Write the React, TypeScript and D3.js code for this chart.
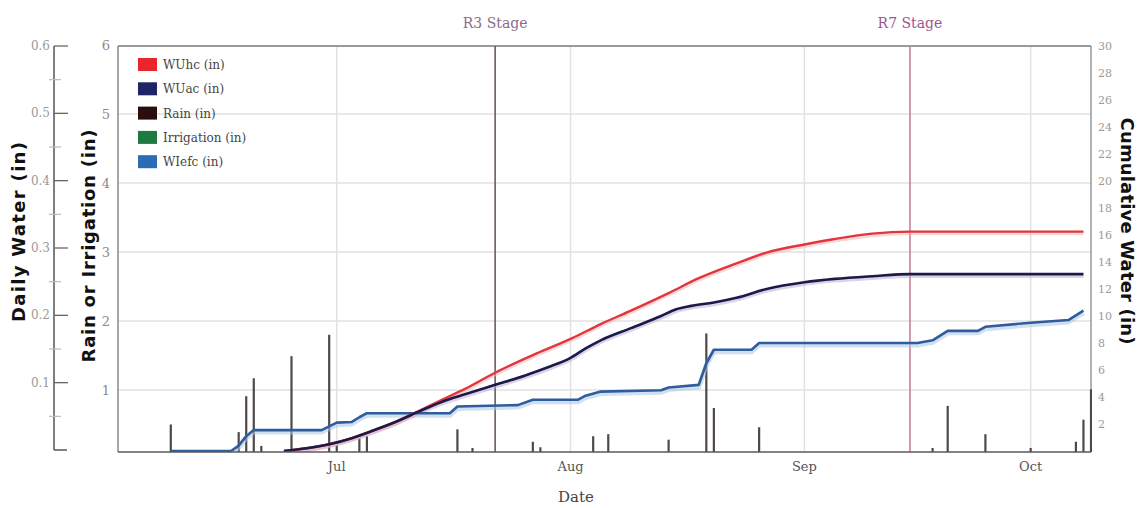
import React from "react";
import * as d3 from "d3";

const YEAR = 2013;
const monthLabels = ["Jul", "Aug", "Sep", "Oct"];
const monthTickDates = ["07-01", "08-01", "09-01", "10-01"];
const rainTicks = [1, 2, 3, 4, 5, 6];
const dailyTicks = [0.1, 0.2, 0.3, 0.4, 0.5, 0.6];
const dailyMinor = [0.05, 0.15, 0.25, 0.35, 0.45, 0.55];
const cumTicks = [2, 4, 6, 8, 10, 12, 14, 16, 18, 20, 22, 24, 26, 28, 30];

const rainDates = ["06-09", "06-18", "06-19", "06-20", "06-21", "06-25", "06-30", "07-01", "07-04", "07-05", "07-17", "07-19", "07-27", "07-28", "08-04", "08-06", "08-14", "08-19", "08-20", "08-26", "09-18", "09-20", "09-25", "10-01", "10-05", "10-07", "10-08", "10-09"];
const rainValues = [0.5, 0.39, 0.91, 1.17, 0.19, 1.49, 1.8, 0.2, 0.3, 0.33, 0.43, 0.16, 0.25, 0.17, 0.33, 0.36, 0.28, 1.82, 0.74, 0.46, 0.16, 0.77, 0.36, 0.16, 0.1, 0.25, 0.57, 1.01];

const wuhcDates = ["06-24", "06-27", "06-30", "07-03", "07-06", "07-09", "07-12", "07-15", "07-18", "07-22", "07-27", "08-01", "08-05", "08-09", "08-14", "08-18", "08-23", "08-27", "09-01", "09-05", "09-10", "09-15", "10-08"];
const wuhcValues = [0, 0.2, 0.5, 0.95, 1.55, 2.2, 3.0, 3.8, 4.6, 5.8, 7.1, 8.3, 9.4, 10.4, 11.7, 12.8, 13.9, 14.7, 15.3, 15.7, 16.1, 16.25, 16.25];

const wuacDates = ["06-24", "06-27", "06-30", "07-03", "07-06", "07-09", "07-12", "07-15", "07-18", "07-22", "07-26", "07-29", "08-01", "08-03", "08-05", "08-09", "08-13", "08-15", "08-17", "08-20", "08-23", "08-27", "09-01", "09-05", "09-10", "09-15", "10-08"];
const wuacValues = [0, 0.2, 0.5, 0.95, 1.55, 2.2, 2.95, 3.65, 4.2, 4.9, 5.6, 6.2, 6.9, 7.6, 8.2, 9.1, 10.0, 10.5, 10.75, 11.0, 11.35, 12.0, 12.5, 12.75, 12.95, 13.1, 13.1];

const wiefcDates = ["06-09", "06-17", "06-18", "06-19", "06-20", "06-29", "07-01", "07-03", "07-04", "07-05", "07-16", "07-17", "07-25", "07-27", "08-02", "08-03", "08-05", "08-13", "08-14", "08-18", "08-19", "08-20", "08-25", "08-26", "09-16", "09-18", "09-20", "09-24", "09-25", "10-01", "10-06", "10-08"];
const wiefcValues = [0, 0, 0.4, 1.1, 1.55, 1.55, 2.1, 2.15, 2.5, 2.8, 2.8, 3.3, 3.4, 3.8, 3.8, 4.1, 4.4, 4.5, 4.7, 4.9, 6.5, 7.5, 7.5, 8.0, 8.0, 8.2, 8.9, 8.9, 9.2, 9.5, 9.7, 10.4];

const stageNames = ["R3 Stage", "R7 Stage"];
const stageDates = ["07-22", "09-15"];

const legendNames = ["WUhc (in)", "WUac (in)", "Rain (in)", "Irrigation (in)", "WIefc (in)"];
const legendColors = ["#e8262c", "#1f2468", "#2a0e0e", "#1e7a40", "#2b6cb6"];

const toDate = (s: string) => {
  const [m, d] = s.split("-").map(Number);
  return new Date(Date.UTC(YEAR, m - 1, d));
};

export default function App() {
  const W = 1141, H = 508;
  const L = 118, R = 1091, T = 46, B = 452;
  const x = d3.scaleUtc().domain([toDate("06-02"), toDate("10-09")]).range([L, R]);
  const yRain = d3.scaleLinear().domain([0, 6]).range([459, 45]);
  const yCum = d3.scaleLinear().domain([0, 30]).range([451, 46]);
  const yDaily = d3.scaleLinear().domain([0, 0.6]).range([450, 46]);

  const mk = (dates: string[], vals: number[], curve: d3.CurveFactory) =>
    d3.line<number>().x((_, i) => x(toDate(dates[i]))).y((v) => yCum(v)).curve(curve)(vals) || "";

  const redPath = mk(wuhcDates, wuhcValues, d3.curveMonotoneX);
  const navyPath = mk(wuacDates, wuacValues, d3.curveMonotoneX);
  const bluePath = mk(wiefcDates, wiefcValues, d3.curveLinear);

  const serif = "'DejaVu Serif', serif";
  const sansB = "'DejaVu Sans', sans-serif";

  return (
    <svg width={W} height={H} style={{ position: "absolute", left: 0, top: 0, background: "#fff" }}>
      <rect x={0} y={0} width={W} height={H} fill="#fff" />
      <defs>
        <clipPath id="plot">
          <rect x={L} y={T} width={R - L + 1} height={B - T} />
        </clipPath>
      </defs>
      {/* gridlines */}
      {rainTicks.filter((t) => t < 6).map((t) => (
        <line key={"h" + t} x1={L} x2={R} y1={yRain(t)} y2={yRain(t)} stroke="#e2e2e2" strokeWidth={1.5} />
      ))}
      {monthTickDates.map((d) => (
        <line key={"v" + d} x1={x(toDate(d))} x2={x(toDate(d))} y1={T} y2={B} stroke="#e2e2e2" strokeWidth={1.5} />
      ))}
      {/* border */}
      <line x1={L} x2={R} y1={T} y2={T} stroke="#9a9a9a" strokeWidth={2} />
      <line x1={L} x2={L} y1={T} y2={B} stroke="#8a8a8a" strokeWidth={1.5} />
      <line x1={R} x2={R} y1={T} y2={B} stroke="#9a9a9a" strokeWidth={1.5} />
      {/* stage lines */}
      <line x1={x(toDate(stageDates[0]))} x2={x(toDate(stageDates[0]))} y1={T} y2={B} stroke="#6e5a64" strokeWidth={1.6} />
      <line x1={x(toDate(stageDates[1]))} x2={x(toDate(stageDates[1]))} y1={T} y2={B} stroke="#c9809f" strokeWidth={1.6} />
      <text x={x(toDate(stageDates[0]))} y={28} textAnchor="middle" fontFamily={serif} fontSize={14} fill="#8a6c8a">{stageNames[0]}</text>
      <text x={x(toDate(stageDates[1]))} y={28} textAnchor="middle" fontFamily={serif} fontSize={14} fill="#a2548c">{stageNames[1]}</text>

      {/* rain bars */}
      <g clipPath="url(#plot)">
        {rainValues.map((v, i) => {
          const xx = x(toDate(rainDates[i]));
          return <line key={"r" + i} x1={xx} x2={xx} y1={B} y2={yRain(v)} stroke="#4e4848" strokeWidth={2.2} />;
        })}
        {/* lines with halos */}
        <path d={bluePath} fill="none" stroke="#a9c6e6" strokeWidth={5} strokeOpacity={0.55} transform="translate(0,2)" />
        <path d={navyPath} fill="none" stroke="#b9a8d8" strokeWidth={4.5} strokeOpacity={0.5} transform="translate(0,1.5)" />
        <path d={redPath} fill="none" stroke="#f2b0b0" strokeWidth={4} strokeOpacity={0.5} transform="translate(0,1.5)" />
        <path d={bluePath} fill="none" stroke="#2f5c9c" strokeWidth={2.6} strokeLinejoin="round" />
        <path d={redPath} fill="none" stroke="#e0363c" strokeWidth={2.4} />
        <path d={navyPath} fill="none" stroke="#1c1a48" strokeWidth={2.6} />
      </g>
      <line x1={L} x2={R} y1={B} y2={B} stroke="#5a5a5a" strokeWidth={1.6} />

      {/* legend */}
      {legendNames.map((n, i) => (
        <g key={n} transform={`translate(138, ${58 + i * 24.3})`}>
          <rect x={0} y={0} width={19} height={13} fill={legendColors[i]} />
          <text x={25} y={11} fontFamily={serif} fontSize={12} fill="#444">{n}</text>
        </g>
      ))}

      {/* daily water axis */}
      <line x1={54} x2={54} y1={yDaily(0.6)} y2={yDaily(0)} stroke="#555" strokeWidth={1.5} />
      <line x1={54} x2={67} y1={yDaily(0)} y2={yDaily(0)} stroke="#555" strokeWidth={1.5} />
      {dailyTicks.map((t) => (
        <g key={"d" + t}>
          <line x1={54} x2={68} y1={yDaily(t)} y2={yDaily(t)} stroke="#666" strokeWidth={1.3} />
          <text x={50} y={yDaily(t) + 4} textAnchor="end" fontFamily={serif} fontSize={12} fill="#9a9a9a">{t.toFixed(1)}</text>
        </g>
      ))}
      {dailyMinor.map((t) => (
        <line key={"dm" + t} x1={49} x2={61} y1={yDaily(t)} y2={yDaily(t)} stroke="#bbb" strokeWidth={1.2} />
      ))}
      {/* rain axis labels */}
      {rainTicks.map((t) => (
        <text key={"rt" + t} x={106} y={yRain(t) + 5} textAnchor="middle" fontFamily={serif} fontSize={13} fill="#8a8a8a">{t}</text>
      ))}
      {/* cumulative axis labels */}
      {cumTicks.map((t) => (
        <text key={"ct" + t} x={1098} y={yCum(t) + 4} textAnchor="start" fontFamily={serif} fontSize={11} fill="#9a9a9a">{t}</text>
      ))}
      {/* month labels */}
      {monthLabels.map((m, i) => (
        <text key={m} x={x(toDate(monthTickDates[i]))} y={471} textAnchor="middle" fontFamily={serif} fontSize={13} fill="#555">{m}</text>
      ))}
      <text x={576} y={502} textAnchor="middle" fontFamily={serif} fontSize={15} fill="#444">Date</text>

      {/* axis titles */}
      <text transform="translate(18,232) rotate(-90)" textAnchor="middle" dominantBaseline="central" fontFamily={sansB} fontWeight="bold" fontSize={18} textLength={180} lengthAdjust="spacing" fill="#111">Daily Water (in)</text>
      <text transform="translate(88,246) rotate(-90)" textAnchor="middle" dominantBaseline="central" fontFamily={sansB} fontWeight="bold" fontSize={18} textLength={233} lengthAdjust="spacing" fill="#111">Rain or Irrigation (in)</text>
      <text transform="translate(1127,231) rotate(90)" textAnchor="middle" dominantBaseline="central" fontFamily={sansB} fontWeight="bold" fontSize={18} textLength={227} lengthAdjust="spacing" fill="#111">Cumulative Water (in)</text>
    </svg>
  );
}
